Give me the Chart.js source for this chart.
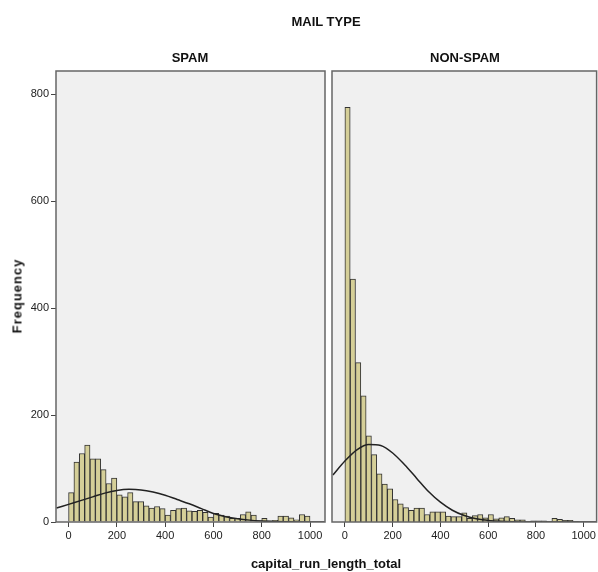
<!DOCTYPE html>
<html lang="en">
<head>
    <meta charset="UTF-8">
    <title>capital_run_length_total by MAIL TYPE</title>
    <script src="https://cdn.jsdelivr.net/npm/chart.js"></script>
    <style>
        body { margin: 0; background: #fff; }
        #wrap { position: relative; width: 598px; height: 572px; overflow: hidden;
                font-family: "Liberation Sans", Arial, sans-serif; color: #111; }
        canvas { position: absolute; top: 0; }
        .lbl { position: absolute; transform: translate(-50%, -50%); font-weight: bold;
               font-size: 13px; white-space: nowrap; }
    </style>
</head>
<body>
<div id="wrap">
    <canvas id="spamChart" width="327" height="572" style="left:0"></canvas>
    <canvas id="nonSpamChart" width="269" height="572" style="left:329px"></canvas>

    <!-- titles -->
    <div class="lbl" style="left:326px; top:21px;">MAIL TYPE</div>
    <div class="lbl" style="left:190px; top:57px;">SPAM</div>
    <div class="lbl" style="left:465px; top:57px;">NON-SPAM</div>
    <div class="lbl" style="left:17px; top:296px; transform:translate(-50%,-50%) rotate(-90deg); letter-spacing:1px;">Frequency</div>
    <div class="lbl" style="left:326px; top:563px;">capital_run_length_total</div>
</div>

<script>
    // bin centres (capital_run_length_total), same bins for both panels
    const binCenters = [11.1, 33.3, 55.6, 77.8, 100.0, 122.2, 144.4, 166.7, 188.9, 211.1,
        233.3, 255.6, 277.8, 300.0, 322.2, 344.4, 366.7, 388.9, 411.1, 433.3,
        455.6, 477.8, 500.0, 522.2, 544.4, 566.7, 588.9, 611.1, 633.3, 655.6,
        677.8, 700.0, 722.2, 744.4, 766.7, 788.9, 811.1, 833.3, 855.6, 877.8,
        900.0, 922.2, 944.4, 966.7, 988.9];

    // frequencies
    const spamFreq = [55, 112, 128, 144, 118, 118, 98, 72, 82, 51,
        47, 55, 38, 38, 30, 26, 29, 25, 13, 22,
        25, 26, 21, 20, 22, 18, 9, 16, 13, 11,
        7, 7, 14, 19, 13, 2, 7, 2, 3, 11,
        11, 8, 4, 14, 11];

    const nonSpamFreq = [775, 454, 298, 236, 161, 126, 90, 71, 62, 42,
        34, 27, 22, 26, 26, 14, 19, 19, 19, 11,
        10, 10, 17, 7, 12, 14, 8, 14, 6, 8,
        10, 7, 4, 4, 1, 2, 2, 2, 1, 7,
        5, 3, 3, 1, 0];

    // normal curves
    const curveX = [-50, 0, 50, 100, 150, 200, 250, 300, 350, 400, 450, 500,
        550, 600, 650, 700, 750, 800, 850, 900, 950, 1000, 1060];
    const spamCurve = [26, 33, 40, 47, 54, 59, 61, 60, 56, 50, 42, 34,
        25, 16, 10, 6, 3.5, 2, 1, 0.5, 0.2, 0.1, 0];
    const nonSpamCurve = [88, 114, 135, 145, 143, 129, 107, 82, 57, 37, 22, 12,
        6, 3, 1.3, 0.5, 0.2, 0.1, 0, 0, 0, 0, 0];

    const xTickValues = [0, 200, 400, 600, 800, 1000];
    const yTickValues = [0, 200, 400, 600, 800];

    const barFill = '#d5cf98';
    const tickFont = { family: "'Liberation Sans Narrow', 'Liberation Sans', Arial, sans-serif", size: 11 };

    // grey plot background and frame
    const panelPlugin = {
        id: 'panel',
        beforeDraw(chart) {
            const a = chart.chartArea, ctx = chart.ctx;
            ctx.save();
            ctx.fillStyle = '#f0f0f0';
            ctx.fillRect(a.left, a.top, a.right - a.left, a.bottom - a.top);
            ctx.restore();
        },
        afterDraw(chart) {
            const a = chart.chartArea, ctx = chart.ctx;
            ctx.save();
            ctx.strokeStyle = '#666';
            ctx.lineWidth = 1.5;
            ctx.strokeRect(a.left, a.top, a.right - a.left, a.bottom - a.top);
            ctx.restore();
        }
    };

    function makePanel(id, freq, curve, xMin, xMax, showY, padLeft, padRight) {
        const ctx = document.getElementById(id).getContext('2d');
        return new Chart(ctx, {
            type: 'bar',
            data: {
                datasets: [{
                    type: 'line',
                    data: curveX.map((x, i) => ({ x: x, y: curve[i] })),
                    borderColor: '#222',
                    borderWidth: 1.5,
                    pointRadius: 0,
                    cubicInterpolationMode: 'monotone',
                    fill: false,
                    order: 0
                }, {
                    type: 'bar',
                    data: binCenters.map((x, i) => ({ x: x, y: freq[i] })),
                    backgroundColor: barFill,
                    borderColor: '#333',
                    borderWidth: 1,
                    barPercentage: 1,
                    categoryPercentage: 1,
                    order: 1
                }]
            },
            options: {
                responsive: false,
                animation: false,
                layout: { padding: { top: 71, bottom: 20, left: padLeft, right: padRight } },
                plugins: { legend: { display: false }, tooltip: { enabled: false } },
                scales: {
                    x: {
                        type: 'linear',
                        min: xMin,
                        max: xMax,
                        offset: false,
                        afterBuildTicks: s => { s.ticks = xTickValues.map(v => ({ value: v })); },
                        afterFit: s => { s.height = 30; },
                        grid: { drawOnChartArea: false, drawTicks: true, tickLength: 5, color: '#444', offset: false },
                        border: { display: false },
                        ticks: { font: tickFont, color: '#222', padding: 2, maxRotation: 0, callback: v => String(v) }
                    },
                    y: {
                        display: showY,
                        min: 0,
                        max: 843,
                        afterBuildTicks: s => { s.ticks = yTickValues.map(v => ({ value: v })); },
                        afterFit: s => { s.width = showY ? 56 : 0; },
                        grid: { drawOnChartArea: false, drawTicks: true, tickLength: 5, color: '#444' },
                        border: { display: false },
                        ticks: { font: tickFont, color: '#222', padding: 2, callback: v => String(v) }
                    }
                }
            },
            plugins: [panelPlugin]
        });
    }

    makePanel('spamChart', spamFreq, spamCurve, -52, 1062, true, 0, 2);
    makePanel('nonSpamChart', nonSpamFreq, nonSpamCurve, -54, 1054, false, 3, 1);
</script>
</body>
</html>
